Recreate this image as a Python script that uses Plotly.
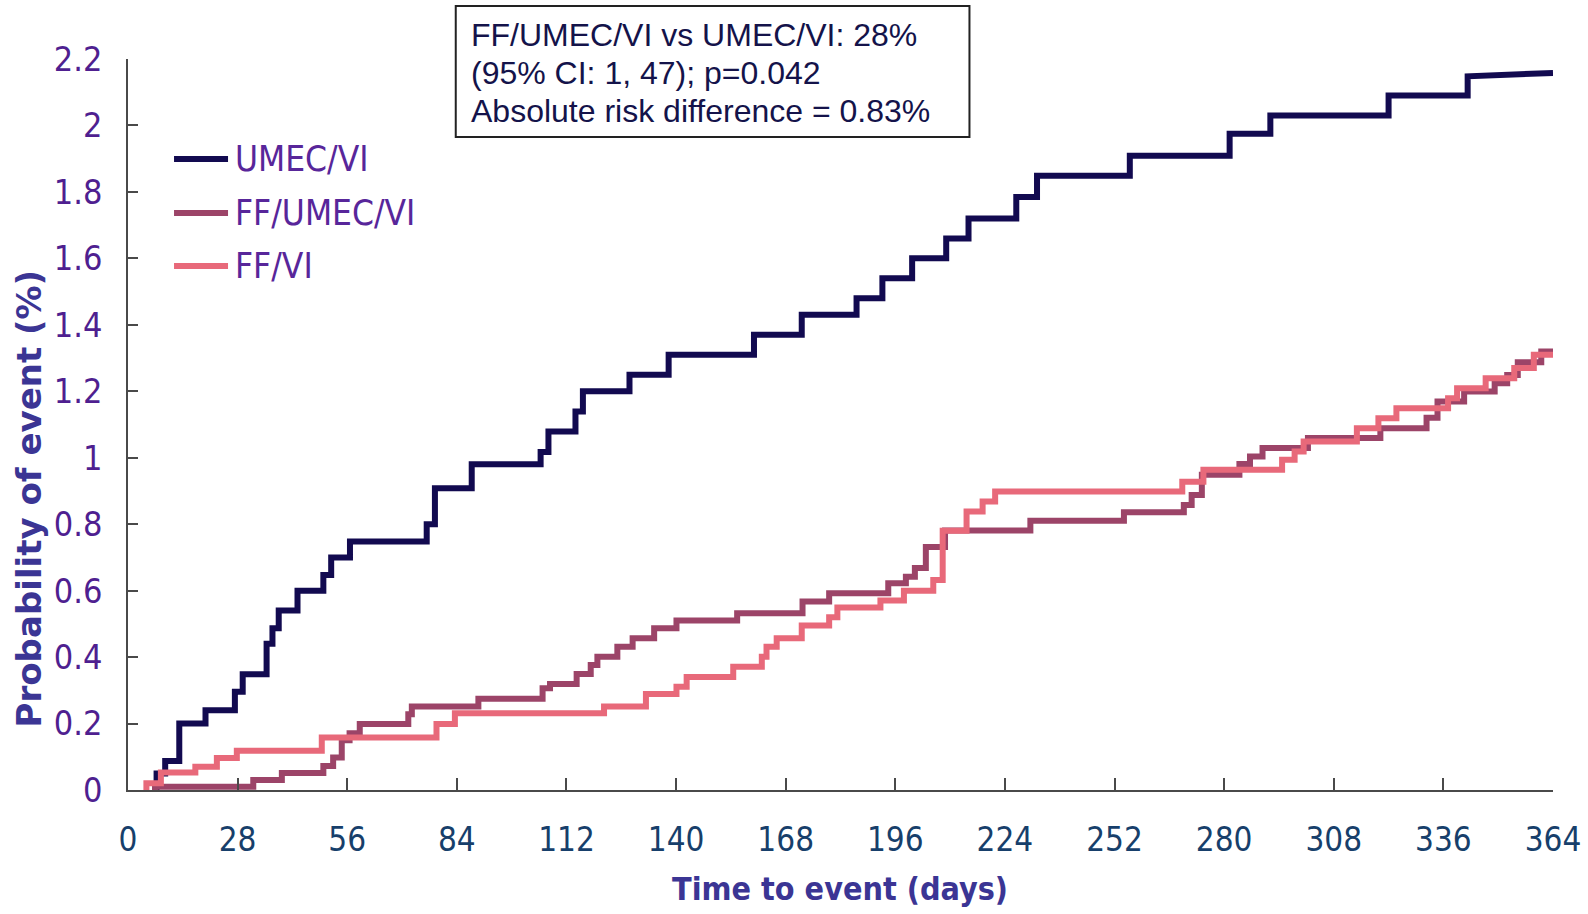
import plotly.graph_objects as go

# ---- data: cumulative probability of event (%) by day ----
END_DAY = 364

series_names = ["UMEC/VI", "FF/UMEC/VI", "FF/VI"]
series_colors = ["#120A50", "#9C4468", "#E8697A"]

umec_vi_days = [7.3, 9.5, 13.1, 19.8, 27.3, 29.3, 35.4, 36.9, 38.5, 43.3,
                49.9, 51.9, 56.7, 76.3, 78.4, 87.8, 105.4, 107.4, 114.3, 116.2,
                128.1, 138.1, 159.9, 172.1, 186.1, 192.7, 200.3, 209.0, 214.7, 226.9,
                232.2, 255.9, 281.4, 291.8, 322.0, 342.2]
umec_vi_prob = [0.05, 0.087, 0.20, 0.24, 0.296, 0.348, 0.44, 0.487, 0.54, 0.60,
                0.647, 0.70, 0.748, 0.80, 0.908, 0.98, 1.017, 1.079, 1.139, 1.20,
                1.25, 1.31, 1.37, 1.43, 1.48, 1.54, 1.60, 1.66, 1.72, 1.785,
                1.849, 1.909, 1.975, 2.03, 2.09, 2.148]
umec_vi_final = 2.158

ff_umec_vi_days = [6.9, 32.0, 39.3, 49.9, 52.4, 54.6, 56.6, 59.2, 71.6, 72.5,
                   89.5, 105.9, 107.8, 114.6, 118.2, 119.9, 125.0, 128.9, 134.4, 140.1,
                   155.6, 172.3, 179.1, 194.2, 198.7, 201.0, 203.8, 208.7, 230.5, 254.4,
                   269.7, 271.7, 274.3, 283.9, 286.6, 289.8, 301.4, 319.9, 331.7, 334.5,
                   341.3, 349.1, 352.3, 355.0, 361.0]
ff_umec_vi_prob = [0.01, 0.03, 0.051, 0.072, 0.098, 0.15, 0.171, 0.199, 0.228, 0.251,
                   0.275, 0.306, 0.319, 0.349, 0.376, 0.401, 0.431, 0.457, 0.487, 0.51,
                   0.532, 0.567, 0.592, 0.622, 0.642, 0.668, 0.731, 0.781, 0.81, 0.836,
                   0.858, 0.888, 0.949, 0.981, 1.004, 1.029, 1.059, 1.089, 1.12, 1.169,
                   1.199, 1.224, 1.249, 1.287, 1.32]
ff_umec_vi_final = 1.32

ff_vi_days = [4.7, 8.4, 17.2, 22.7, 27.8, 49.5, 78.8, 83.5, 121.6, 132.3,
              140.1, 142.7, 154.6, 161.9, 163.1, 165.7, 172.1, 179.1, 181.2, 192.2,
              198.2, 205.7, 208.1, 214.2, 218.3, 221.5, 269.3, 274.7, 294.8, 298.0,
              300.3, 313.9, 319.4, 324.0, 337.2, 339.5, 346.8, 354.1, 359.1]
ff_vi_prob = [0.02, 0.053, 0.07, 0.096, 0.118, 0.158, 0.199, 0.231, 0.251, 0.289,
              0.311, 0.34, 0.371, 0.401, 0.431, 0.457, 0.495, 0.52, 0.549, 0.57,
              0.60, 0.632, 0.78, 0.838, 0.868, 0.898, 0.928, 0.964, 0.994, 1.019,
              1.049, 1.089, 1.119, 1.149, 1.179, 1.209, 1.239, 1.27, 1.31]
ff_vi_final = 1.31

x_ticks = [0, 28, 56, 84, 112, 140, 168, 196, 224, 252, 280, 308, 336, 364]
y_ticks = [0, 0.2, 0.4, 0.6, 0.8, 1.0, 1.2, 1.4, 1.6, 1.8, 2.0, 2.2]
y_tick_labels = ["0", "0.2", "0.4", "0.6", "0.8", "1", "1.2", "1.4", "1.6", "1.8", "2", "2.2"]

stats_lines = [
    "FF/UMEC/VI vs UMEC/VI: 28%",
    "(95% CI: 1, 47); p=0.042",
    "Absolute risk difference = 0.83%",
]

NARROW = "DejaVu Sans Condensed, Liberation Sans Narrow, Arial Narrow, sans-serif"
ARIAL = "Liberation Sans, Arial, sans-serif"


def step_path(days, probs, final):
    """Kaplan-Meier style staircase: flat, then jump at each event day."""
    xs, ys = [days[0]], [0.0]
    prev = 0.0
    for d, p in zip(days, probs):
        xs += [d, d]
        ys += [prev, p]
        prev = p
    xs.append(END_DAY)
    ys.append(final)
    return xs, ys


curves = [
    (umec_vi_days, umec_vi_prob, umec_vi_final),
    (ff_umec_vi_days, ff_umec_vi_prob, ff_umec_vi_final),
    (ff_vi_days, ff_vi_prob, ff_vi_final),
]

fig = go.Figure()
for name, color, (d, p, f) in zip(series_names, series_colors, curves):
    xs, ys = step_path(d, p, f)
    fig.add_trace(go.Scatter(x=xs, y=ys, mode="lines", name=name,
                             line=dict(color=color, width=6),
                             showlegend=False, hoverinfo="skip"))

axis_color = "#4a4a4a"
fig.update_layout(
    width=1588, height=914,
    margin=dict(l=128, r=35, t=59, b=124),
    paper_bgcolor="white", plot_bgcolor="white",
    showlegend=False,
    xaxis=dict(range=[0, END_DAY], tickvals=x_ticks, ticktext=[str(t) for t in x_ticks],
               ticks="inside", ticklen=12, tickwidth=1.5, tickcolor=axis_color,
               showline=True, linecolor=axis_color, linewidth=1.5, automargin=False,
               showgrid=False, zeroline=False, ticklabelstandoff=20,
               tickfont=dict(family=NARROW, size=33, color="#173F6B")),
    yaxis=dict(range=[0, 2.2], tickvals=y_ticks, ticktext=y_tick_labels,
               ticks="inside", ticklen=10, tickwidth=1.5, tickcolor=axis_color,
               showline=True, linecolor=axis_color, linewidth=1.5, automargin=False,
               showgrid=False, zeroline=False, ticklabelstandoff=17,
               tickfont=dict(family=NARROW, size=34, color="#4F1F90")),
)

# axis titles
title_color = "#3B3594"
fig.add_annotation(text="<b>Time to event (days)</b>", xref="paper", yref="paper",
                   x=0.4993, y=-0.1354, xanchor="center", yanchor="middle", showarrow=False,
                   font=dict(family=NARROW, size=32, color=title_color))
fig.add_annotation(text="<b>Probability of event (%)</b>", xref="paper", yref="paper",
                   x=-0.0688, y=0.3988, xanchor="center", yanchor="middle", showarrow=False,
                   textangle=-90,
                   font=dict(family="DejaVu Sans, sans-serif", size=34, color=title_color))

# legend drawn as line swatches with labels
legend_y = [0.8632, 0.7893, 0.7168]
for name, color, ly in zip(series_names, series_colors, legend_y):
    fig.add_shape(type="line", xref="paper", yref="paper",
                  x0=0.0323, x1=0.0702, y0=ly, y1=ly,
                  line=dict(color=color, width=6))
    fig.add_annotation(text=name, xref="paper", yref="paper", x=0.0735, y=ly,
                       xanchor="left", yanchor="middle", showarrow=False,
                       font=dict(family=NARROW, size=35, color="#58269A"))

# statistics box
fig.add_shape(type="rect", xref="paper", yref="paper",
              x0=0.2300, x1=0.5905, y0=0.8933, y1=1.0725,
              line=dict(color="#222222", width=2), fillcolor="white", layer="above")
for line, ly in zip(stats_lines, [1.0328, 0.9815, 0.9288]):
    fig.add_annotation(text=line, xref="paper", yref="paper", x=0.2392, y=ly,
                       xanchor="left", yanchor="middle", showarrow=False,
                       font=dict(family=ARIAL, size=32, color="#14134A"))

fig.write_html("out.html")
